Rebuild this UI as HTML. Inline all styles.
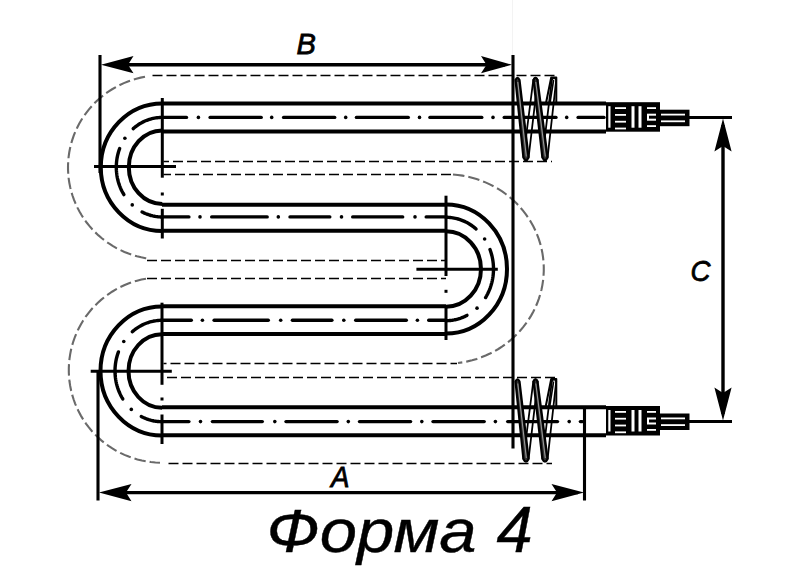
<!DOCTYPE html>
<html><head><meta charset="utf-8"><style>
html,body{margin:0;padding:0;background:#fff;width:801px;height:566px;overflow:hidden}
svg{display:block}
</style></head><body>
<svg width="801" height="566" viewBox="0 0 801 566">
<rect width="801" height="566" fill="#fff"/>
<line x1="162" y1="103.6" x2="606" y2="103.6" stroke="#000" stroke-width="4.0" />
<line x1="162" y1="131.6" x2="606" y2="131.6" stroke="#000" stroke-width="4.0" />
<line x1="162" y1="204.7" x2="446" y2="204.7" stroke="#000" stroke-width="4.0" />
<line x1="162" y1="230.8" x2="446" y2="230.8" stroke="#000" stroke-width="4.0" />
<line x1="162" y1="306.3" x2="446" y2="306.3" stroke="#000" stroke-width="4.0" />
<line x1="162" y1="333.9" x2="446" y2="333.9" stroke="#000" stroke-width="4.0" />
<line x1="162" y1="407.3" x2="606" y2="407.3" stroke="#000" stroke-width="4.0" />
<line x1="162" y1="435.3" x2="606" y2="435.3" stroke="#000" stroke-width="4.0" />
<line x1="162" y1="117.4" x2="186.5" y2="117.4" stroke="#000" stroke-width="3.4" stroke-linecap="round"/>
<circle cx="198.4" cy="117.4" r="1.8" fill="#000"/>
<line x1="210.1" y1="117.4" x2="261.2" y2="117.4" stroke="#000" stroke-width="3.4" stroke-linecap="round"/>
<circle cx="271.7" cy="117.4" r="1.8" fill="#000"/>
<line x1="283.6" y1="117.4" x2="334.7" y2="117.4" stroke="#000" stroke-width="3.4" stroke-linecap="round"/>
<circle cx="345.7" cy="117.4" r="1.8" fill="#000"/>
<line x1="356.4" y1="117.4" x2="408.3" y2="117.4" stroke="#000" stroke-width="3.4" stroke-linecap="round"/>
<circle cx="419.5" cy="117.4" r="1.8" fill="#000"/>
<line x1="429.9" y1="117.4" x2="481.8" y2="117.4" stroke="#000" stroke-width="3.4" stroke-linecap="round"/>
<circle cx="493" cy="117.4" r="1.8" fill="#000"/>
<line x1="504.2" y1="117.4" x2="556.0" y2="117.4" stroke="#000" stroke-width="3.4" stroke-linecap="round"/>
<circle cx="566.7" cy="117.4" r="1.8" fill="#000"/>
<line x1="578.1" y1="117.4" x2="604" y2="117.4" stroke="#000" stroke-width="3.4" stroke-linecap="round"/>
<line x1="162" y1="216.9" x2="188.9" y2="216.9" stroke="#000" stroke-width="3.4" stroke-linecap="round"/>
<circle cx="200" cy="216.9" r="1.8" fill="#000"/>
<line x1="211.7" y1="216.9" x2="267.2" y2="216.9" stroke="#000" stroke-width="3.4" stroke-linecap="round"/>
<circle cx="278.3" cy="216.9" r="1.8" fill="#000"/>
<line x1="290.0" y1="216.9" x2="329.8" y2="216.9" stroke="#000" stroke-width="3.4" stroke-linecap="round"/>
<circle cx="341.5" cy="216.9" r="1.8" fill="#000"/>
<line x1="352.7" y1="216.9" x2="402.7" y2="216.9" stroke="#000" stroke-width="3.4" stroke-linecap="round"/>
<circle cx="415" cy="216.9" r="1.8" fill="#000"/>
<line x1="426.2" y1="216.9" x2="446" y2="216.9" stroke="#000" stroke-width="3.4" stroke-linecap="round"/>
<line x1="162" y1="320.2" x2="191.3" y2="320.2" stroke="#000" stroke-width="3.4" stroke-linecap="round"/>
<circle cx="202.4" cy="320.2" r="1.8" fill="#000"/>
<line x1="214.1" y1="320.2" x2="268.3" y2="320.2" stroke="#000" stroke-width="3.4" stroke-linecap="round"/>
<circle cx="280.7" cy="320.2" r="1.8" fill="#000"/>
<line x1="292.4" y1="320.2" x2="331.9" y2="320.2" stroke="#000" stroke-width="3.4" stroke-linecap="round"/>
<circle cx="343.8" cy="320.2" r="1.8" fill="#000"/>
<line x1="355.7" y1="320.2" x2="406.3" y2="320.2" stroke="#000" stroke-width="3.4" stroke-linecap="round"/>
<circle cx="417.4" cy="320.2" r="1.8" fill="#000"/>
<line x1="428.7" y1="320.2" x2="446" y2="320.2" stroke="#000" stroke-width="3.4" stroke-linecap="round"/>
<line x1="162" y1="421.6" x2="188.9" y2="421.6" stroke="#000" stroke-width="3.4" stroke-linecap="round"/>
<circle cx="200.5" cy="421.6" r="1.8" fill="#000"/>
<line x1="212.4" y1="421.6" x2="262.3" y2="421.6" stroke="#000" stroke-width="3.4" stroke-linecap="round"/>
<circle cx="274.8" cy="421.6" r="1.8" fill="#000"/>
<line x1="286.0" y1="421.6" x2="337.1" y2="421.6" stroke="#000" stroke-width="3.4" stroke-linecap="round"/>
<circle cx="348.3" cy="421.6" r="1.8" fill="#000"/>
<line x1="359.5" y1="421.6" x2="410.6" y2="421.6" stroke="#000" stroke-width="3.4" stroke-linecap="round"/>
<circle cx="421.8" cy="421.6" r="1.8" fill="#000"/>
<line x1="433.0" y1="421.6" x2="484.2" y2="421.6" stroke="#000" stroke-width="3.4" stroke-linecap="round"/>
<circle cx="495.4" cy="421.6" r="1.8" fill="#000"/>
<line x1="507.7" y1="421.6" x2="557.5" y2="421.6" stroke="#000" stroke-width="3.4" stroke-linecap="round"/>
<circle cx="569.2" cy="421.6" r="1.8" fill="#000"/>
<line x1="580.4" y1="421.6" x2="582.3" y2="421.6" stroke="#000" stroke-width="3.4" stroke-linecap="round"/>
<path d="M162.3,103.39999999999999 A61.5,63.8 0 0 0 162.3,231.0" fill="none" stroke="#000" stroke-width="4.0" />
<path d="M162.3,130.39999999999998 A33.5,36.8 0 0 0 162.3,204.0" fill="none" stroke="#000" stroke-width="4.0" />
<path d="M162.30,117.40 L160.99,117.42 L159.68,117.48 L158.37,117.58 L157.06,117.72 L155.76,117.91 L154.47,118.13 L153.18,118.39 L151.90,118.69 L150.62,119.03 L149.36,119.41 L148.10,119.83 L146.86,120.29 L145.63,120.78 L144.42,121.32 L143.22,121.89 L142.03,122.50 L140.86,123.14 L139.71,123.82 L138.57,124.53 L137.46,125.28 L136.37,126.07 L135.29,126.89 L134.24,127.74 L133.21,128.62" fill="none" stroke="#000" stroke-width="3.4" stroke-linecap="round"/>
<path d="M119.67,148.48 L119.01,150.36 L118.42,152.27 L117.90,154.20 L117.45,156.15 L117.07,158.12 L116.77,160.10 L116.54,162.10 L116.39,164.10 L116.31,166.11 L116.31,168.12 L116.38,170.13 L116.53,172.13 L116.75,174.13 L117.04,176.11 L117.41,178.08 L117.85,180.04 L118.37,181.97 L118.96,183.88 L119.61,185.76 L120.34,187.61 L121.13,189.42 L122.00,191.20 L122.92,192.95 L123.92,194.65" fill="none" stroke="#000" stroke-width="3.4" stroke-linecap="round"/>
<path d="M142.04,211.91 L142.83,212.32 L143.62,212.71 L144.43,213.09 L145.23,213.45 L146.05,213.79 L146.87,214.11 L147.70,214.42 L148.53,214.72 L149.36,214.99 L150.21,215.25 L151.05,215.49 L151.90,215.71 L152.75,215.92 L153.61,216.10 L154.47,216.27 L155.33,216.43 L156.20,216.56 L157.07,216.68 L157.94,216.78 L158.81,216.86 L159.68,216.92 L160.55,216.96 L161.43,216.99 L162.30,217.00" fill="none" stroke="#000" stroke-width="3.4" stroke-linecap="round"/>
<circle cx="124.88" cy="138.23" r="1.8" fill="#000"/>
<circle cx="132.26" cy="204.91" r="1.8" fill="#000"/>
<path d="M446,204.4 A61,64.6 0 0 1 446,333.6" fill="none" stroke="#000" stroke-width="4.0" />
<path d="M446,231.2 A35,37.8 0 0 1 446,306.8" fill="none" stroke="#000" stroke-width="4.0" />
<path d="M446.00,217.30 L447.36,217.32 L448.71,217.38 L450.07,217.49 L451.42,217.64 L452.76,217.83 L454.10,218.06 L455.44,218.33 L456.76,218.64 L458.08,219.00 L459.39,219.40 L460.68,219.83 L461.97,220.31 L463.24,220.83 L464.50,221.38 L465.74,221.98 L466.97,222.61 L468.18,223.28 L469.37,223.99 L470.54,224.73 L471.69,225.51 L472.82,226.33 L473.93,227.18 L475.02,228.07 L476.08,228.99" fill="none" stroke="#000" stroke-width="3.4" stroke-linecap="round"/>
<path d="M490.00,249.51 L490.68,251.46 L491.30,253.45 L491.84,255.45 L492.31,257.48 L492.70,259.53 L493.01,261.60 L493.25,263.67 L493.41,265.76 L493.49,267.85 L493.49,269.94 L493.42,272.03 L493.27,274.12 L493.04,276.20 L492.73,278.26 L492.35,280.31 L491.89,282.35 L491.36,284.36 L490.75,286.34 L490.07,288.30 L489.31,290.22 L488.49,292.11 L487.59,293.97 L486.63,295.78 L485.60,297.55" fill="none" stroke="#000" stroke-width="3.4" stroke-linecap="round"/>
<path d="M466.97,315.39 L466.16,315.81 L465.33,316.22 L464.50,316.62 L463.67,316.99 L462.82,317.35 L461.97,317.69 L461.12,318.01 L460.26,318.32 L459.39,318.60 L458.52,318.87 L457.65,319.12 L456.77,319.35 L455.88,319.57 L455.00,319.76 L454.11,319.94 L453.21,320.10 L452.32,320.24 L451.42,320.36 L450.52,320.47 L449.62,320.55 L448.71,320.62 L447.81,320.66 L446.91,320.69 L446.00,320.70" fill="none" stroke="#000" stroke-width="3.4" stroke-linecap="round"/>
<circle cx="484.64" cy="238.93" r="1.8" fill="#000"/>
<circle cx="477.02" cy="308.15" r="1.8" fill="#000"/>
<path d="M162,306.5 A61.5,64.5 0 0 0 162,435.5" fill="none" stroke="#000" stroke-width="4.0" />
<path d="M162,334.2 A33.5,36.8 0 0 0 162,407.8" fill="none" stroke="#000" stroke-width="4.0" />
<path d="M162.00,320.30 L160.66,320.32 L159.32,320.38 L157.98,320.49 L156.64,320.63 L155.31,320.82 L153.99,321.04 L152.67,321.31 L151.36,321.62 L150.06,321.96 L148.76,322.35 L147.48,322.78 L146.21,323.25 L144.95,323.75 L143.71,324.30 L142.48,324.88 L141.27,325.50 L140.07,326.16 L138.90,326.85 L137.74,327.58 L136.60,328.34 L135.48,329.14 L134.38,329.98 L133.31,330.84 L132.26,331.74" fill="none" stroke="#000" stroke-width="3.4" stroke-linecap="round"/>
<path d="M118.46,351.91 L117.78,353.83 L117.17,355.77 L116.64,357.74 L116.18,359.72 L115.79,361.73 L115.48,363.75 L115.25,365.79 L115.09,367.83 L115.01,369.88 L115.01,371.93 L115.08,373.98 L115.23,376.02 L115.46,378.06 L115.76,380.08 L116.14,382.09 L116.59,384.08 L117.12,386.05 L117.72,387.99 L118.39,389.91 L119.14,391.80 L119.95,393.65 L120.83,395.46 L121.78,397.24 L122.80,398.97" fill="none" stroke="#000" stroke-width="3.4" stroke-linecap="round"/>
<path d="M141.27,416.50 L142.08,416.92 L142.89,417.32 L143.71,417.70 L144.54,418.07 L145.37,418.42 L146.21,418.75 L147.06,419.07 L147.91,419.37 L148.76,419.65 L149.62,419.91 L150.49,420.16 L151.36,420.38 L152.23,420.59 L153.11,420.78 L153.99,420.96 L154.87,421.11 L155.76,421.25 L156.64,421.37 L157.53,421.47 L158.43,421.55 L159.32,421.62 L160.21,421.66 L161.11,421.69 L162.00,421.70" fill="none" stroke="#000" stroke-width="3.4" stroke-linecap="round"/>
<circle cx="123.77" cy="341.51" r="1.8" fill="#000"/>
<circle cx="131.31" cy="409.40" r="1.8" fill="#000"/>
<line x1="162.3" y1="98" x2="162.3" y2="177.7" stroke="#000" stroke-width="3" />
<line x1="162.3" y1="208.8" x2="162.3" y2="238.5" stroke="#000" stroke-width="3" />
<rect x="160.8" y="192.5" width="3" height="3" fill="#000"/>
<line x1="446" y1="195.7" x2="446" y2="276" stroke="#000" stroke-width="3" />
<line x1="446" y1="307.5" x2="446" y2="340" stroke="#000" stroke-width="3" />
<rect x="444.5" y="289.8" width="3" height="3" fill="#000"/>
<line x1="162" y1="302.7" x2="162" y2="384.8" stroke="#000" stroke-width="3" />
<line x1="162" y1="414.5" x2="162" y2="444" stroke="#000" stroke-width="3" />
<rect x="160.5" y="397.5" width="3" height="3" fill="#000"/>
<line x1="94" y1="166.5" x2="176" y2="166.5" stroke="#000" stroke-width="3.1" />
<line x1="416.4" y1="269.3" x2="497.8" y2="269.3" stroke="#000" stroke-width="3.1" />
<line x1="90.7" y1="371.3" x2="171.8" y2="371.3" stroke="#000" stroke-width="3.1" />
<line x1="152.5" y1="75.5" x2="558" y2="75.5" stroke="#000" stroke-width="1.3" stroke-dasharray="10 4"/>
<line x1="163.5" y1="161.5" x2="552" y2="161.5" stroke="#000" stroke-width="1.3" stroke-dasharray="10 4" stroke-dashoffset="4.5"/>
<line x1="163.5" y1="174.5" x2="451" y2="174.5" stroke="#000" stroke-width="1.3" stroke-dasharray="10 4" stroke-dashoffset="2.5"/>
<line x1="147" y1="260.5" x2="446" y2="260.5" stroke="#000" stroke-width="1.3" stroke-dasharray="10 4"/>
<line x1="147" y1="278.5" x2="446" y2="278.5" stroke="#000" stroke-width="1.3" stroke-dasharray="10 4"/>
<line x1="163.5" y1="363.5" x2="457" y2="363.5" stroke="#000" stroke-width="1.3" stroke-dasharray="10 4" stroke-dashoffset="7.0"/>
<line x1="163.5" y1="377.5" x2="556" y2="377.5" stroke="#000" stroke-width="1.3" stroke-dasharray="10 4" stroke-dashoffset="10.5"/>
<line x1="168.5" y1="463.5" x2="552" y2="463.5" stroke="#000" stroke-width="1.3" stroke-dasharray="10 4"/>
<path d="M145.00,76.72 L140.66,77.61 L136.36,78.70 L132.12,79.98 L127.95,81.46 L123.86,83.13 L119.85,84.99 L115.93,87.03 L112.12,89.25 L108.41,91.65 L104.83,94.21 L101.37,96.94 L98.05,99.83 L94.87,102.86 L91.84,106.04 L88.97,109.35 L86.26,112.80 L83.72,116.36 L81.35,120.04 L79.16,123.83 L77.16,127.71 L75.34,131.68 L73.72,135.73 L72.29,139.85 L71.07,144.03 L70.05,148.27 L69.23,152.54 L68.62,156.85 L68.21,161.18 L68.02,165.53 L68.03,169.88 L68.26,174.23 L68.69,178.56 L69.33,182.86 L70.18,187.13 L71.23,191.36 L72.48,195.53 L73.94,199.65 L75.59,203.68 L77.43,207.64 L79.46,211.51 L81.67,215.28 L84.06,218.95 L86.63,222.50 L89.36,225.92 L92.26,229.22 L95.31,232.38 L98.51,235.39 L101.85,238.25 L105.33,240.96 L108.93,243.50 L112.65,245.87 L116.47,248.07 L120.41,250.08 L124.43,251.92 L128.54,253.56 L132.72,255.01 L136.96,256.27 L141.27,257.33 L145.61,258.19 L150.00,258.85" fill="none" stroke="#6a6a6a" stroke-width="2.1" stroke-dasharray="11.5 4"/>
<path d="M453.00,174.54 L457.78,174.99 L462.53,175.66 L467.25,176.56 L471.91,177.68 L476.51,179.02 L481.03,180.58 L485.47,182.36 L489.82,184.34 L494.06,186.52 L498.18,188.91 L502.18,191.48 L506.04,194.25 L509.76,197.19 L513.32,200.31 L516.73,203.59 L519.96,207.03 L523.01,210.62 L525.88,214.36 L528.55,218.22 L531.03,222.21 L533.30,226.30 L535.36,230.51 L537.20,234.80 L538.82,239.18 L540.22,243.63 L541.40,248.14 L542.34,252.70 L543.05,257.29 L543.53,261.92 L543.77,266.57 L543.77,271.22 L543.54,275.86 L543.08,280.49 L542.38,285.09 L541.45,289.66 L540.28,294.17 L538.89,298.62 L537.28,303.00 L535.44,307.30 L533.40,311.51 L531.13,315.61 L528.67,319.60 L526.00,323.47 L523.15,327.21 L520.10,330.80 L516.88,334.25 L513.48,337.54 L509.93,340.67 L506.22,343.62 L502.36,346.39 L498.37,348.98 L494.25,351.37 L490.01,353.57 L485.67,355.56 L481.24,357.34 L476.72,358.91 L472.12,360.26 L467.46,361.39 L462.75,362.30 L458.00,362.98" fill="none" stroke="#6a6a6a" stroke-width="2.1" stroke-dasharray="11.5 4"/>
<path d="M146.00,278.68 L141.51,279.57 L137.07,280.68 L132.69,282.00 L128.38,283.54 L124.15,285.29 L120.02,287.24 L115.98,289.39 L112.06,291.73 L108.25,294.27 L104.58,296.98 L101.04,299.88 L97.65,302.94 L94.42,306.16 L91.35,309.54 L88.45,313.06 L85.73,316.73 L83.19,320.51 L80.84,324.42 L78.69,328.44 L76.74,332.56 L74.99,336.77 L73.46,341.06 L72.14,345.42 L71.03,349.84 L70.15,354.31 L69.48,358.81 L69.04,363.35 L68.82,367.89 L68.83,372.45 L69.07,377.00 L69.52,381.53 L70.20,386.03 L71.11,390.49 L72.23,394.91 L73.57,399.26 L75.12,403.55 L76.88,407.75 L78.84,411.86 L81.01,415.87 L83.37,419.77 L85.93,423.55 L88.66,427.21 L91.58,430.72 L94.66,434.08 L97.90,437.30 L101.30,440.35 L104.85,443.23 L108.53,445.93 L112.35,448.45 L116.28,450.78 L120.32,452.92 L124.47,454.85 L128.70,456.58 L133.02,458.10 L137.40,459.41 L141.85,460.51 L146.34,461.38 L150.87,462.04 L155.43,462.47 L160.00,462.68" fill="none" stroke="#6a6a6a" stroke-width="2.1" stroke-dasharray="11.5 4"/>
<line x1="512.5" y1="0" x2="512.5" y2="55" stroke="#f3f3f3" stroke-width="1" />
<line x1="100" y1="55" x2="100" y2="173" stroke="#000" stroke-width="3.1" />
<line x1="98" y1="371" x2="98" y2="500.5" stroke="#000" stroke-width="3.1" />
<line x1="513" y1="55" x2="513" y2="448.5" stroke="#000" stroke-width="3.1" />
<line x1="584.5" y1="406" x2="584.5" y2="500.5" stroke="#000" stroke-width="3.1" />
<line x1="110" y1="64.7" x2="505" y2="64.7" stroke="#000" stroke-width="3.4" />
<line x1="108" y1="492.6" x2="578" y2="492.6" stroke="#000" stroke-width="3.4" />
<line x1="723" y1="125" x2="723" y2="414" stroke="#000" stroke-width="3.4" />
<line x1="689" y1="117.4" x2="732" y2="117.4" stroke="#000" stroke-width="3.0" />
<line x1="689" y1="421.5" x2="732" y2="421.5" stroke="#000" stroke-width="3.0" />
<path d="M101,64.7 L133.5,73.3 L128.0,64.7 L133.5,56.1 Z" fill="#000"/>
<path d="M512,64.7 L481.0,56.1 L486.5,64.7 L481.0,73.3 Z" fill="#000"/>
<path d="M99,492.6 L131.5,501.2 L126.0,492.6 L131.5,484.0 Z" fill="#000"/>
<path d="M584,492.6 L551.5,484.0 L557.0,492.6 L551.5,501.2 Z" fill="#000"/>
<path d="M723,118.5 L714.4,151.5 L723.0,146.0 L731.6,151.5 Z" fill="#000"/>
<path d="M723,420.6 L731.6,387.6 L723.0,393.1 L714.4,387.6 Z" fill="#000"/>
<path d="M523.4,157.5 L533.3,80 Q535.5,75.5 537.7,80 L528.6,157.5" fill="none" stroke="#000" stroke-width="1.8" stroke-linejoin="round"/>
<path d="M542.4,157.5 L551.8,80 Q554,75.5 556.2,80 L547.6,157.5" fill="none" stroke="#000" stroke-width="1.8" stroke-linejoin="round"/>
<path d="M545.8,104 L551.2,77.5 L556.3,77.5 L556.3,104" fill="none" stroke="#000" stroke-width="2" stroke-linejoin="round"/>
<path d="M549.8,104 L553.6,80" stroke="#000" stroke-width="1.6"/>
<path d="M515.5,80 Q517.5,75.5 519.5,80 L528.6,157.5 Q526,163.0 523.4,157.5 Z" fill="#333" stroke="#000" stroke-width="2.2" stroke-linejoin="round"/>
<path d="M517.8,82 L526.3,156.5" stroke="#aaa" stroke-width="0.9"/>
<path d="M533.5,80 Q535.5,75.5 537.5,80 L547.6,157.5 Q545,163.0 542.4,157.5 Z" fill="#333" stroke="#000" stroke-width="2.2" stroke-linejoin="round"/>
<path d="M535.8,82 L545.3,156.5" stroke="#aaa" stroke-width="0.9"/>
<path d="M523.4,459 L533.3,381.5 Q535.5,377.0 537.7,381.5 L528.6,459" fill="none" stroke="#000" stroke-width="1.8" stroke-linejoin="round"/>
<path d="M542.4,459 L551.8,381.5 Q554,377.0 556.2,381.5 L547.6,459" fill="none" stroke="#000" stroke-width="1.8" stroke-linejoin="round"/>
<path d="M545.8,406 L551.2,379.0 L556.3,379.0 L556.3,406" fill="none" stroke="#000" stroke-width="2" stroke-linejoin="round"/>
<path d="M549.8,406 L553.6,381.5" stroke="#000" stroke-width="1.6"/>
<path d="M515.5,381.5 Q517.5,377.0 519.5,381.5 L528.6,459 Q526,464.5 523.4,459 Z" fill="#333" stroke="#000" stroke-width="2.2" stroke-linejoin="round"/>
<path d="M517.8,383.5 L526.3,458" stroke="#aaa" stroke-width="0.9"/>
<path d="M533.5,381.5 Q535.5,377.0 537.5,381.5 L547.6,459 Q545,464.5 542.4,459 Z" fill="#333" stroke="#000" stroke-width="2.2" stroke-linejoin="round"/>
<path d="M535.8,383.5 L545.3,458" stroke="#aaa" stroke-width="0.9"/>
<rect x="606" y="102.2" width="54" height="29.499999999999986" fill="#000"/>
<rect x="608.3" y="106.2" width="2.2" height="21.499999999999986" fill="#fff"/>
<rect x="615" y="107.2" width="11" height="1.8" fill="#fff"/>
<rect x="615" y="114.0" width="11" height="1.8" fill="#fff"/>
<rect x="615" y="120.8" width="11" height="1.8" fill="#fff"/>
<rect x="615" y="127.6" width="11" height="1.8" fill="#fff"/>
<rect x="631.5" y="106.2" width="3" height="21.499999999999986" fill="#fff"/>
<rect x="638.5" y="106.2" width="3" height="21.499999999999986" fill="#fff"/>
<rect x="647" y="107.2" width="9" height="1.8" fill="#fff"/>
<rect x="647" y="125.19999999999999" width="9" height="1.8" fill="#fff"/>
<rect x="647" y="113.7" width="9" height="7" fill="#fff"/>
<rect x="649" y="115.7" width="7" height="3" fill="#000"/>
<rect x="660" y="109.7" width="29.5" height="16.5" fill="#000"/>
<rect x="661" y="113.7" width="24" height="1.8" fill="#fff"/>
<rect x="661" y="120.4" width="24" height="1.8" fill="#fff"/>
<rect x="606" y="406" width="54" height="29.5" fill="#000"/>
<rect x="608.3" y="410" width="2.2" height="21.5" fill="#fff"/>
<rect x="615" y="411.0" width="11" height="1.8" fill="#fff"/>
<rect x="615" y="417.8" width="11" height="1.8" fill="#fff"/>
<rect x="615" y="424.6" width="11" height="1.8" fill="#fff"/>
<rect x="615" y="431.4" width="11" height="1.8" fill="#fff"/>
<rect x="631.5" y="410" width="3" height="21.5" fill="#fff"/>
<rect x="638.5" y="410" width="3" height="21.5" fill="#fff"/>
<rect x="647" y="411" width="9" height="1.8" fill="#fff"/>
<rect x="647" y="429.0" width="9" height="1.8" fill="#fff"/>
<rect x="647" y="417.5" width="9" height="7" fill="#fff"/>
<rect x="649" y="419.5" width="7" height="3" fill="#000"/>
<rect x="660" y="413.5" width="29.5" height="16.5" fill="#000"/>
<rect x="661" y="417.5" width="24" height="1.8" fill="#fff"/>
<rect x="661" y="424.2" width="24" height="1.8" fill="#fff"/>
<text x="296.5" y="53.6" font-family="Liberation Sans, sans-serif" font-style="italic" stroke="#000" stroke-width="0.8" font-size="29">B</text>
<text x="331" y="487" font-family="Liberation Sans, sans-serif" font-style="italic" stroke="#000" stroke-width="0.8" font-size="29" textLength="18.5" lengthAdjust="spacingAndGlyphs">A</text>
<text x="690.5" y="281.3" font-family="Liberation Sans, sans-serif" font-style="italic" stroke="#000" stroke-width="0.8" font-size="30" textLength="20" lengthAdjust="spacingAndGlyphs">C</text>
<text x="266.6" y="552" font-family="Liberation Sans, sans-serif" font-style="italic" font-size="60.5" stroke="#000" stroke-width="0.4" textLength="210" lengthAdjust="spacingAndGlyphs">Форма</text>
<text x="496.5" y="551.5" font-family="Liberation Sans, sans-serif" font-style="italic" font-size="65" stroke="#000" stroke-width="0.4">4</text>
</svg>
</body></html>
